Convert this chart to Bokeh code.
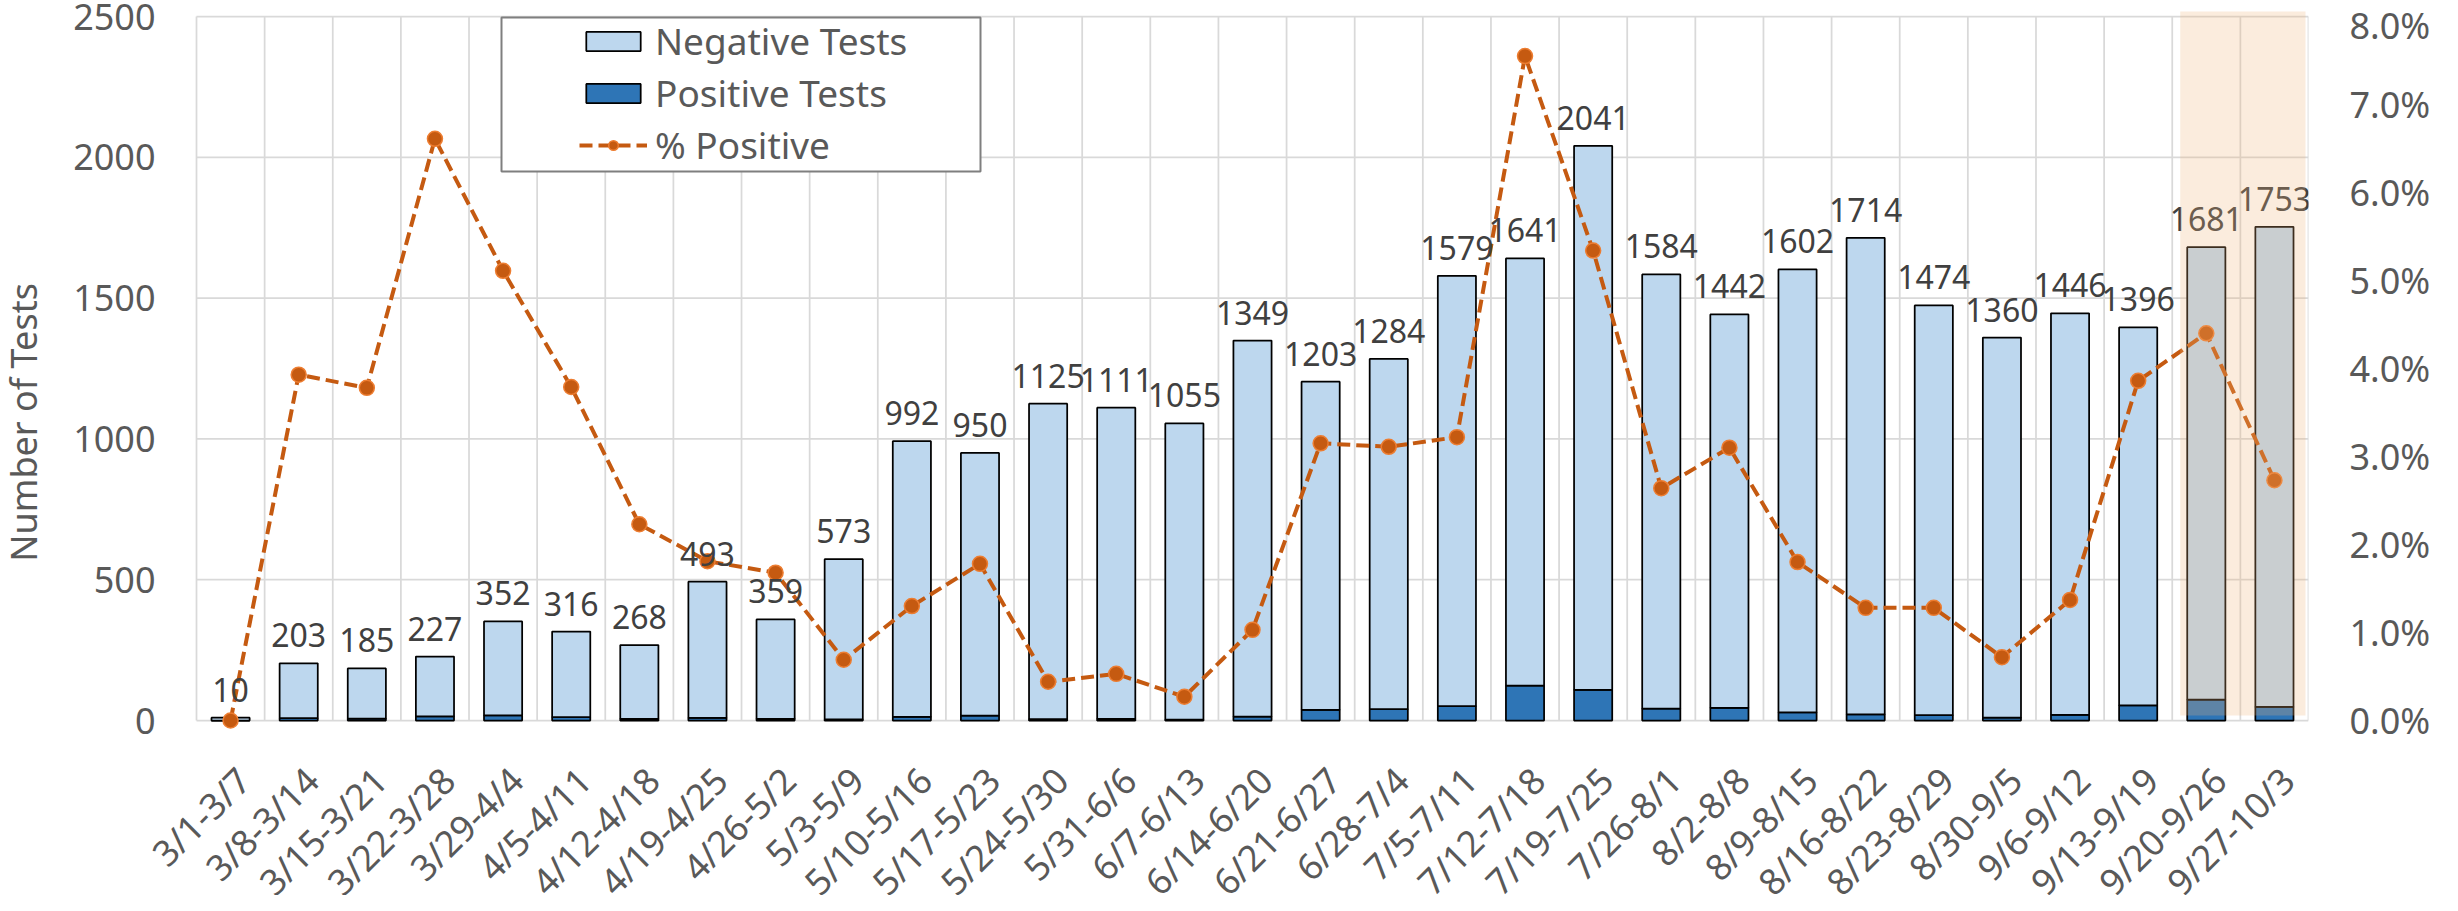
from bokeh.plotting import figure
from bokeh.models import (Range1d, LinearAxis, FixedTicker, PrintfTickFormatter,
                          Legend, LegendItem, ColumnDataSource)
from bokeh.core.properties import value
from bokeh.embed import file_html
from bokeh.resources import INLINE

# ---------------- data ----------------
weeks = ["3/1-3/7", "3/8-3/14", "3/15-3/21", "3/22-3/28", "3/29-4/4", "4/5-4/11",
         "4/12-4/18", "4/19-4/25", "4/26-5/2", "5/3-5/9", "5/10-5/16", "5/17-5/23",
         "5/24-5/30", "5/31-6/6", "6/7-6/13", "6/14-6/20", "6/21-6/27", "6/28-7/4",
         "7/5-7/11", "7/12-7/18", "7/19-7/25", "7/26-8/1", "8/2-8/8", "8/9-8/15",
         "8/16-8/22", "8/23-8/29", "8/30-9/5", "9/6-9/12", "9/13-9/19", "9/20-9/26",
         "9/27-10/3"]
total_tests = [10, 203, 185, 227, 352, 316, 268, 493, 359, 573, 992, 950, 1125, 1111,
               1055, 1349, 1203, 1284, 1579, 1641, 2041, 1584, 1442, 1602, 1714, 1474,
               1360, 1446, 1396, 1681, 1753]
positive_tests = [0, 8, 7, 15, 18, 12, 6, 9, 6, 4, 13, 17, 5, 6, 3, 14, 38, 40, 51, 124,
                  109, 42, 45, 29, 22, 19, 10, 20, 54, 74, 48]
pct_positive = [0.0, 3.93, 3.78, 6.61, 5.11, 3.79, 2.23, 1.81, 1.68, 0.69, 1.30, 1.78,
                0.44, 0.53, 0.27, 1.03, 3.15, 3.11, 3.22, 7.55, 5.34, 2.64, 3.10, 1.80,
                1.28, 1.28, 0.72, 1.37, 3.86, 4.40, 2.73]
highlighted_weeks = ["9/20-9/26", "9/27-10/3"]
y_ticks = [0, 500, 1000, 1500, 2000, 2500]
pct_ticks = [0, 1, 2, 3, 4, 5, 6, 7, 8]
y_title = "Number of Tests"

negative_tests = [t - q for t, q in zip(total_tests, positive_tests)]
n = len(weeks)
idx = list(range(n))

# ---------------- layout constants (absolute page pixels) ----------------
FONT = "Noto Sans"
W, H = 2442, 895
BR = 134                                    # right border holds the % axis
PLOT_L, PLOT_R = 204, 2316                  # category area
ZERO_Y, TOP_Y = 728, 24                     # 0 and 2500 tests
PX_PER_UNIT = (ZERO_Y - TOP_Y) / 2500
PX_PER_PCT = (ZERO_Y - TOP_Y) / 8.0
CAT_PX = (PLOT_R - PLOT_L) / n
FRAME_L, FRAME_T, FRAME_R, FRAME_B = 8, 8, 8 + W - BR, 8 + H


def px_x(ax):
    return -0.5 + (ax - PLOT_L) / CAT_PX


def px_y(ay):
    return (ZERO_Y - ay) / PX_PER_UNIT


p = figure(width=W, height=H, output_backend="svg", toolbar_location=None,
           x_range=Range1d(px_x(FRAME_L), px_x(FRAME_R)),
           y_range=Range1d(px_y(FRAME_B), px_y(FRAME_T)),
           min_border_left=0, min_border_top=0, min_border_right=BR,
           min_border_bottom=0)
p.extra_y_ranges = {"pct": Range1d((ZERO_Y - FRAME_B) / PX_PER_PCT,
                                   (ZERO_Y - FRAME_T) / PX_PER_PCT)}
p.outline_line_color = None
p.background_fill_color = "white"
p.border_fill_color = "white"
p.xgrid.visible = False
p.ygrid.visible = False
p.xaxis.visible = False
p.yaxis.visible = False

# grid lines limited to the plotting area
bounds = [i - 0.5 for i in range(n + 1)]
p.segment(x0=bounds, y0=[0] * len(bounds), x1=bounds, y1=[y_ticks[-1]] * len(bounds),
          line_color="#D9D9D9", line_width=1.75, level="underlay")
p.segment(x0=[-0.5] * len(y_ticks), y0=y_ticks, x1=[n - 0.5] * len(y_ticks), y1=y_ticks,
          line_color="#D9D9D9", line_width=1.75, level="underlay")

src = ColumnDataSource(dict(x=idx, zero=[0] * n, pos=positive_tests, neg=negative_tests,
                            tot=total_tests, pct=pct_positive, wk=weeks,
                            lbl=[str(t) for t in total_tests]))

r_pos = p.vbar(x="x", bottom=0, top="pos", width=0.56, source=src,
               fill_color="#2E75B6", line_color="black", line_width=1.75)
r_neg = p.vbar(x="x", bottom="pos", top="tot", width=0.56, source=src,
               fill_color="#BDD7EE", line_color="black", line_width=1.75)
r_line = p.line(x="x", y="pct", source=src, y_range_name="pct",
                line_color="#C55A11", line_width=4, line_dash="13 6")
r_mark = p.scatter(x="x", y="pct", source=src, y_range_name="pct", marker="circle",
                   size=15, fill_color="#C55A11", line_color="#ED7D31", line_width=1.5)

# value labels above the bars
p.text(x="x", y="tot", text="lbl", source=src, text_align="center",
       text_baseline="alphabetic", y_offset=-28, text_font=value(FONT),
       text_font_size="32px", text_color="#404040")

# category labels, rotated 45 degrees below the zero line
p.text(x="x", y="zero", text="wk", source=src, angle=0.785398,
       text_align="right", text_baseline="top", x_offset=-4, y_offset=36,
       text_font=value(FONT), text_font_size="36px", text_color="#595959")

# left value-axis labels and title
p.text(x=[px_x(163)] * len(y_ticks), y=y_ticks, text=[str(t) for t in y_ticks],
       text_align="right", text_baseline="middle", text_font=value(FONT),
       text_font_size="36px", text_color="#595959")
p.text(x=[px_x(31)], y=[px_y(430)], text=[y_title], angle=1.570796,
       text_align="center", text_baseline="middle", text_font=value(FONT),
       text_font_size="36px", text_color="#595959")

# highlight for the last two weeks (drawn on top, translucent)
first_h = weeks.index(highlighted_weeks[0])
last_h = weeks.index(highlighted_weeks[-1])
p.quad(left=[first_h - 0.5 + 8 / CAT_PX], right=[last_h + 0.5 - 3 / CAT_PX],
       bottom=[px_y(ZERO_Y - 5)], top=[px_y(19)],
       fill_color=(240, 180, 120), fill_alpha=0.25, line_color=None)

# legend frame
p.quad(left=[px_x(509)], right=[px_x(988)], bottom=[px_y(179)], top=[px_y(25)],
       fill_color="white", line_color="#7F7F7F", line_width=2)

# right axis: % positive
right_axis = LinearAxis(y_range_name="pct", ticker=FixedTicker(ticks=pct_ticks),
                        formatter=PrintfTickFormatter(format="%.1f%%"))
right_axis.major_label_standoff = 41
right_axis.axis_line_color = None
right_axis.major_tick_line_color = None
right_axis.minor_tick_line_color = None
right_axis.major_tick_out = 0
right_axis.major_tick_in = 0
right_axis.minor_tick_out = 0
right_axis.minor_tick_in = 0
right_axis.major_label_text_font = FONT
right_axis.major_label_text_font_size = "36px"
right_axis.major_label_text_color = "#595959"
p.add_layout(right_axis, "right")

legend = Legend(items=[LegendItem(label="Negative Tests", renderers=[r_neg]),
                       LegendItem(label="Positive Tests", renderers=[r_pos]),
                       LegendItem(label="% Positive", renderers=[r_line, r_mark])],
                location=(587 - FRAME_L, FRAME_B - 178), orientation="vertical",
                glyph_width=68, glyph_height=24, label_standoff=8, spacing=1,
                label_height=50, padding=0, margin=0,
                border_line_alpha=0, background_fill_alpha=0,
                label_text_font=FONT, label_text_font_size="37px",
                label_text_color="#595959")
p.add_layout(legend)

open("out.html", "w").write(file_html(p, INLINE))
